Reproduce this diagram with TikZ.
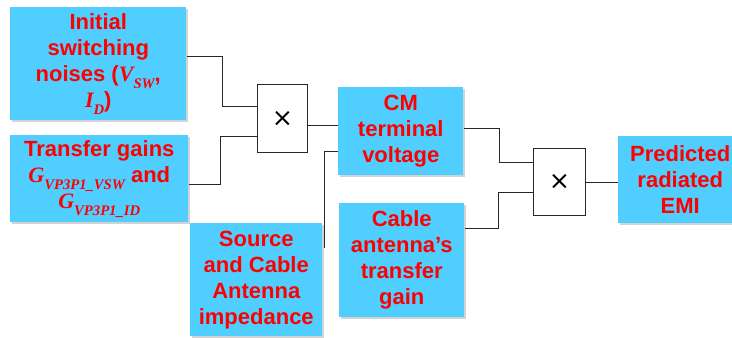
\documentclass[tikz,border=0pt]{standalone}
\usepackage{fontspec}
\setmainfont{Liberation Sans}
\newfontfamily\mth{Liberation Serif}
\newfontfamily\dejavu{DejaVu Sans}
\usetikzlibrary{shadows}
\definecolor{boxblue}{RGB}{80,206,255}
\definecolor{txtred}{RGB}{255,0,0}
\definecolor{wire}{RGB}{40,40,40}
\newcommand{\msym}[2]{{\mth\bfseries\itshape #1\raisebox{-0.3em}{\fontsize{11}{11}\selectfont #2}}}
\begin{document}
\begin{tikzpicture}[x=0.75pt,y=-0.75pt,
  box/.style={draw=none,fill=boxblue,anchor=north west,inner sep=0pt,
    align=center,text=txtred,
    font=\fontsize{16.5}{19.5}\selectfont\bfseries,
    drop shadow={opacity=0.35,shadow xshift=1.2pt,shadow yshift=-1.2pt}},
  mult/.style={draw=wire,line width=0.75pt,fill=white,anchor=north west,inner sep=0pt,
    font=\dejavu\fontsize{19}{19}\selectfont},
  wireline/.style={draw=wire,line width=0.75pt}]
\useasboundingbox (0,0) rectangle (732,337);
\node[box,minimum width=176*0.75pt,minimum height=113*0.75pt] (A) at (10,7)
  {Initial\\switching\\noises (\msym{V}{SW},\\\msym{I}{D})};
\node[box,minimum width=178*0.75pt,minimum height=87*0.75pt] (B) at (10,135)
  {Transfer gains\\\msym{G}{VP3P1\_VSW} and\\\msym{G}{VP3P1\_ID}};
\node[mult,minimum width=50*0.75pt,minimum height=68*0.75pt] (M1) at (257,84) {×};
\node[box,minimum width=125*0.75pt,minimum height=88*0.75pt] (C) at (338,87)
  {CM\\terminal\\voltage};
\node[box,minimum width=132*0.75pt,minimum height=113*0.75pt] (S) at (190,223)
  {Source\\and Cable\\Antenna\\impedance};
\node[box,minimum width=125*0.75pt,minimum height=114*0.75pt] (D) at (339,203)
  {Cable\\antenna’s\\transfer\\gain};
\node[mult,minimum width=52*0.75pt,minimum height=67*0.75pt] (M2) at (533,148) {×};
\node[box,minimum width=124*0.75pt,minimum height=87*0.75pt] (P) at (618,136)
  {Predicted\\radiated\\EMI};
\coordinate (sfree) at (324,248);
\draw[wireline] (A.east |- {(0,56)}) -| (222,106) -- (M1.west |- {(0,106)});
\draw[wireline] (B.east |- {(0,184)}) -| (220,136) -- (M1.west |- {(0,136)});
\draw[wireline] (M1.east |- {(0,125)}) -- (C.west |- {(0,125)});
\draw[wireline] (sfree) |- (C.west |- {(0,151)});
\draw[wireline] (C.east |- {(0,128)}) -| (499,162) -- (M2.west |- {(0,162)});
\draw[wireline] (D.east |- {(0,228)}) -| (498,192) -- (M2.west |- {(0,192)});
\draw[wireline] (M2.east |- {(0,182)}) -- (P.west |- {(0,182)});
\end{tikzpicture}
\end{document}
